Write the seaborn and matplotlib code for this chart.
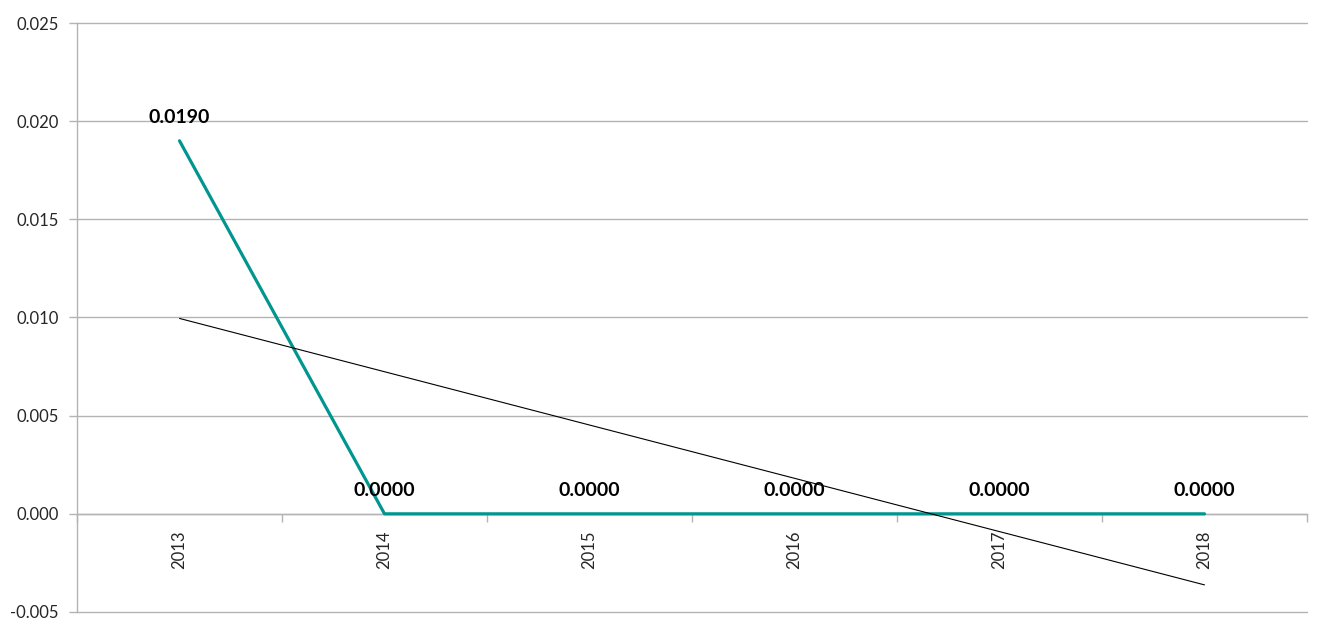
import matplotlib
matplotlib.use("Agg")
import matplotlib.pyplot as plt
from matplotlib.ticker import FixedLocator, MultipleLocator
import seaborn as sns
import pandas as pd
import numpy as np

years = ["2013", "2014", "2015", "2016", "2017", "2018"]
values = [0.0190, 0.0000, 0.0000, 0.0000, 0.0000, 0.0000]

sns.set_theme(style="white")
plt.rcParams["font.family"] = ["Lato", "DejaVu Sans"]

df = pd.DataFrame({"pos": np.arange(len(years)), "year": years, "value": values})

fig = plt.figure(figsize=(13.17, 6.31), dpi=100)
ax = fig.add_axes([77 / 1317, 1 - 612 / 631, 1230 / 1317, 589 / 631])

grid_color = "#b3b3b3"
teal = "#00968f"

# Series line
sns.lineplot(data=df, x="pos", y="value", ax=ax, color=teal, linewidth=2.3,
             zorder=3, legend=False)

# Linear trend line over the category positions
sns.regplot(data=df, x="pos", y="value", ax=ax, scatter=False, ci=None,
            truncate=True, line_kws={"color": "black", "linewidth": 0.8, "zorder": 4})

# Value labels
for p, v in zip(df["pos"], df["value"]):
    ax.annotate(f"{v:.4f}", xy=(p, v), xytext=(0, 10.5), textcoords="offset points",
                ha="center", va="bottom", fontsize=14, fontweight="bold",
                color="black", zorder=5)

ax.set_xlim(-0.5, len(years) - 0.5)
ax.set_ylim(-0.005, 0.025)
ax.yaxis.set_major_locator(MultipleLocator(0.005))
ax.yaxis.set_major_formatter(plt.FuncFormatter(lambda v, _: f"{v:.3f}"))
ax.grid(axis="y", color=grid_color, linewidth=1.0)
ax.grid(axis="x", visible=False)
ax.set_axisbelow(True)
for gl in ax.get_ygridlines():
    gl.set_clip_on(False)

# Category axis sits on the zero line
for s in ["top", "right"]:
    ax.spines[s].set_visible(False)
ax.spines["bottom"].set_position(("data", 0))
ax.spines["bottom"].set_color(grid_color)
ax.spines["left"].set_color(grid_color)
ax.spines["left"].set_linewidth(1.0)
ax.spines["bottom"].set_linewidth(1.0)

ax.xaxis.set_major_locator(FixedLocator(np.arange(-0.5, len(years), 1.0)))
ax.xaxis.set_major_formatter(plt.NullFormatter())
ax.xaxis.set_minor_locator(FixedLocator(df["pos"].values))
ax.xaxis.set_minor_formatter(plt.FixedFormatter(years))
ax.tick_params(axis="x", which="major", direction="out", length=6, width=1,
               color=grid_color, bottom=True)
ax.tick_params(axis="x", which="minor", length=0, pad=12, labelsize=12,
               labelrotation=90, bottom=True)
ax.tick_params(axis="y", direction="out", length=6, width=1, color=grid_color,
               left=True, labelsize=12, pad=7)
for lbl in ax.get_xticklabels(minor=True):
    lbl.set_verticalalignment("top")

ax.set_xlabel("")
ax.set_ylabel("")

fig.savefig("out.png", dpi=100)
